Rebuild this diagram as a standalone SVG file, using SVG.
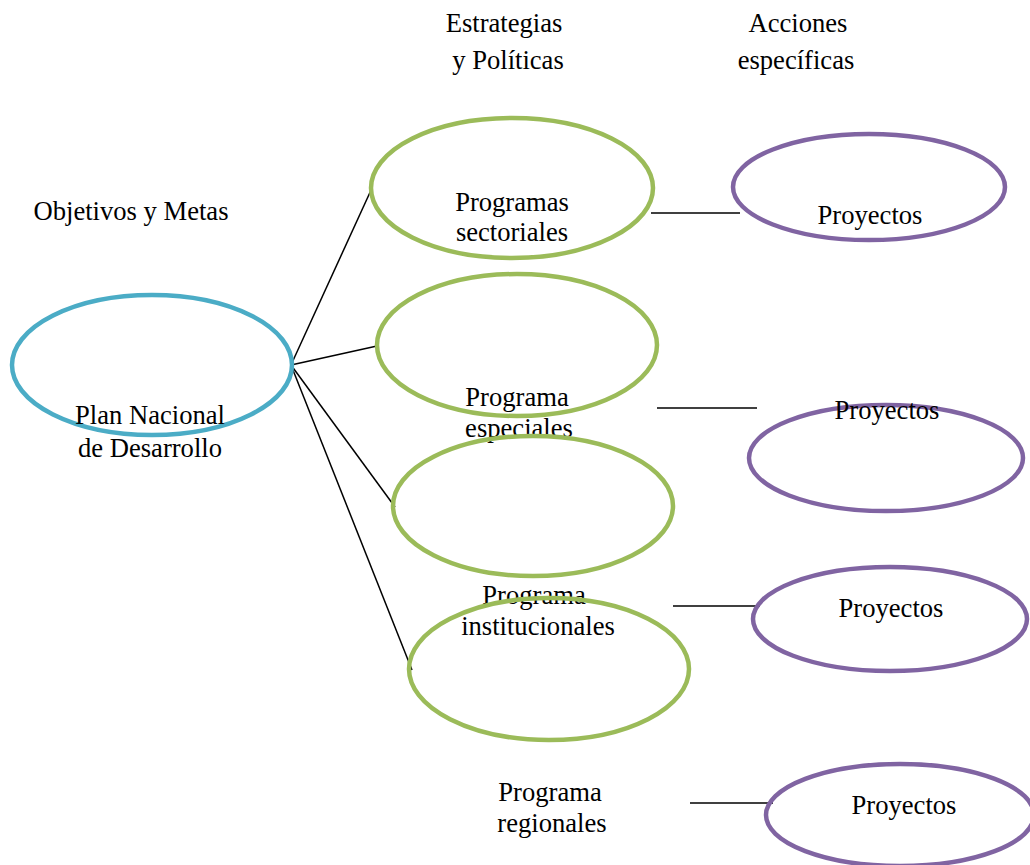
<svg xmlns="http://www.w3.org/2000/svg" width="1030" height="865" viewBox="0 0 1030 865">
  <style>
    text { font-family: "Liberation Serif", "Times New Roman", serif; font-size: 26.6px; fill: #000; text-anchor: middle; }
    .blue { fill: none; stroke: #4BACC6; stroke-width: 4.5; }
    .green { fill: none; stroke: #9BBB59; stroke-width: 4.5; }
    .purple { fill: none; stroke: #8064A2; stroke-width: 4.5; }
    .link { stroke: #000; stroke-width: 1.5; fill: none; }
  </style>
  <rect width="1030" height="865" fill="#fff"/>

  <!-- column headings -->
  <g id="headings">
    <text x="504" y="32">Estrategias</text>
    <text x="508" y="69">y Políticas</text>
    <text x="798" y="32">Acciones</text>
    <text x="796" y="69">específicas</text>
    <text x="131" y="220">Objetivos y Metas</text>
  </g>

  <!-- connectors -->
  <g id="connectors">
    <line class="link" x1="291" y1="365" x2="372" y2="188"/>
    <line class="link" x1="291" y1="365" x2="377" y2="346"/>
    <line class="link" x1="291" y1="365" x2="395" y2="507"/>
    <line class="link" x1="291" y1="365" x2="412" y2="670"/>
    <line class="link" x1="651" y1="213" x2="740" y2="213"/>
    <line class="link" x1="657" y1="408" x2="757" y2="408"/>
    <line class="link" x1="673" y1="606" x2="760" y2="606"/>
    <line class="link" x1="690" y1="803" x2="773" y2="803"/>
  </g>

  <!-- root node -->
  <g id="plan-nacional">
    <ellipse class="blue" cx="152" cy="365" rx="140" ry="70"/>
    <text x="150" y="424">Plan Nacional</text>
    <text x="150" y="457">de Desarrollo</text>
  </g>

  <!-- programme nodes -->
  <g id="programas-sectoriales">
    <ellipse class="green" cx="512" cy="188" rx="141" ry="70"/>
    <text x="512" y="211">Programas</text>
    <text x="512" y="241">sectoriales</text>
  </g>
  <g id="programa-especiales">
    <ellipse class="green" cx="517" cy="345" rx="140" ry="71"/>
    <text x="517" y="406">Programa</text>
    <text x="519" y="437">especiales</text>
  </g>
  <g id="programa-institucionales">
    <ellipse class="green" cx="533" cy="506" rx="140" ry="70"/>
    <text x="534" y="604">Programa</text>
    <text x="538" y="635">institucionales</text>
  </g>
  <g id="programa-regionales">
    <ellipse class="green" cx="549" cy="669" rx="140" ry="71"/>
    <text x="550" y="801">Programa</text>
    <text x="552" y="832">regionales</text>
  </g>

  <!-- project nodes -->
  <g id="proyectos-1">
    <ellipse class="purple" cx="869" cy="187" rx="136" ry="53"/>
    <text x="870" y="224">Proyectos</text>
  </g>
  <g id="proyectos-2">
    <ellipse class="purple" cx="886" cy="458" rx="137" ry="53"/>
    <text x="887" y="419">Proyectos</text>
  </g>
  <g id="proyectos-3">
    <ellipse class="purple" cx="890" cy="619" rx="137" ry="52"/>
    <text x="891" y="617">Proyectos</text>
  </g>
  <g id="proyectos-4">
    <ellipse class="purple" cx="900" cy="815" rx="134" ry="51"/>
    <text x="904" y="814">Proyectos</text>
  </g>
</svg>
